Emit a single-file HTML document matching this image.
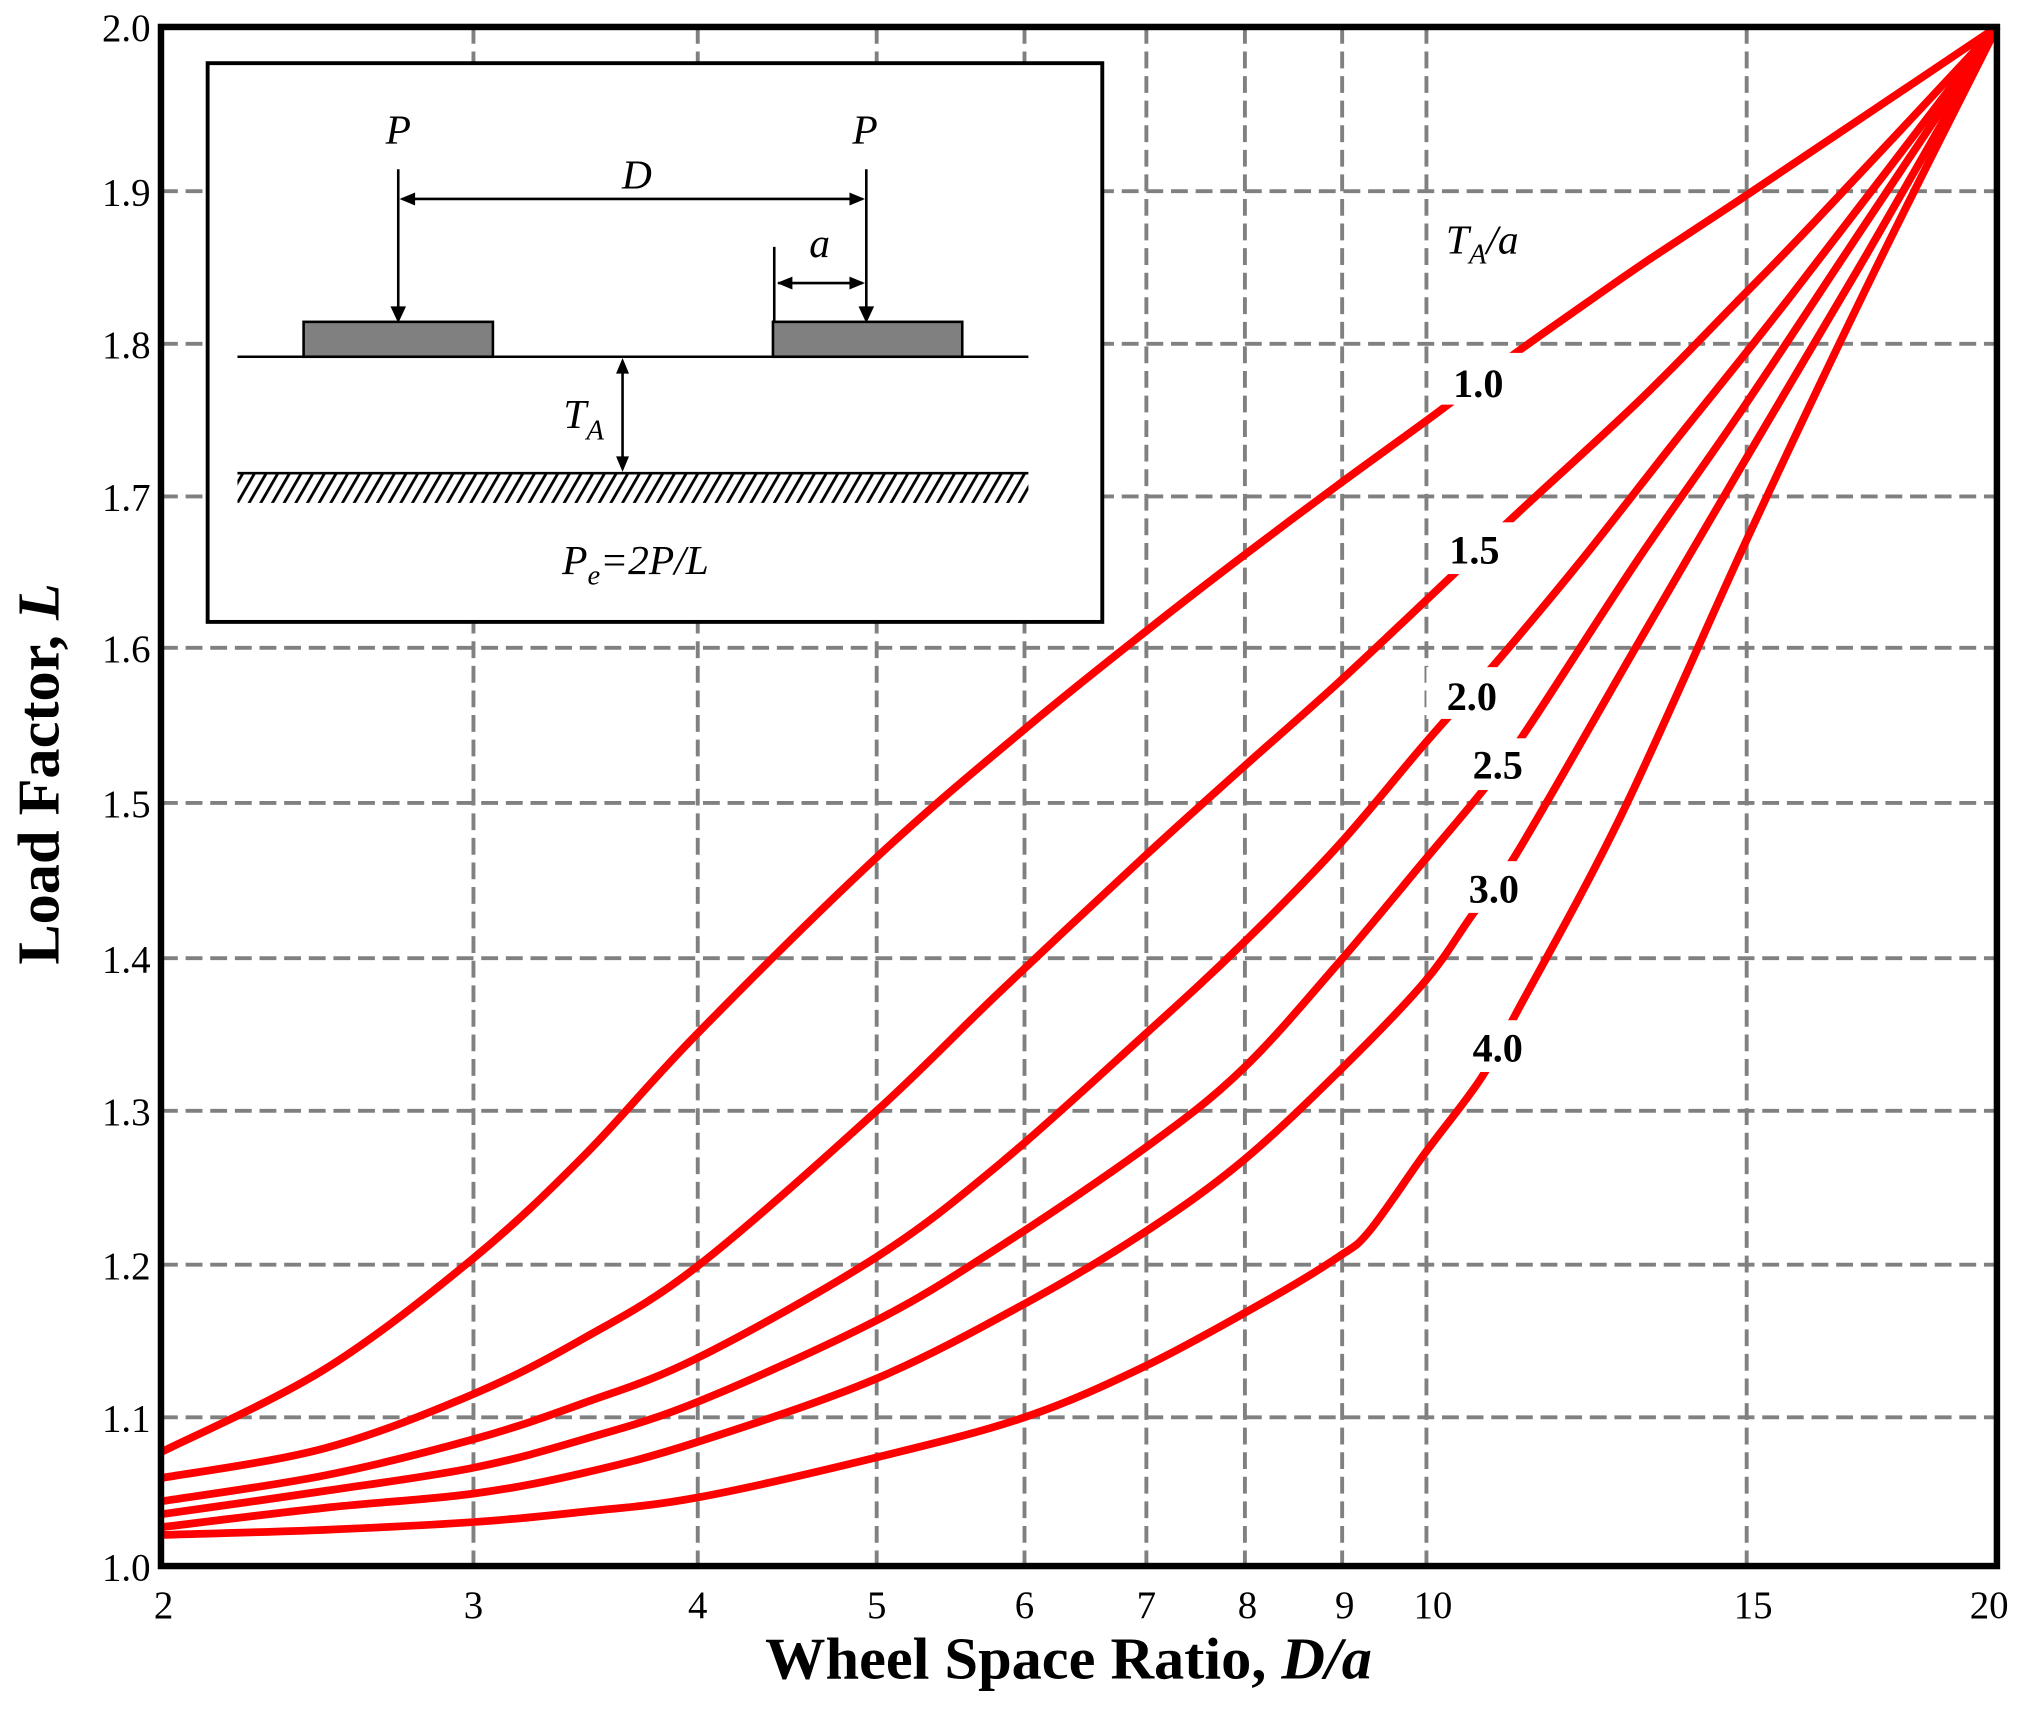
<!DOCTYPE html>
<html><head><meta charset="utf-8"><style>html,body{margin:0;padding:0;background:#fff}svg{display:block}</style></head>
<body>
<svg width="2032" height="1716" viewBox="-0.15 -0.85 1567.2 1326.8" preserveAspectRatio="none" xmlns="http://www.w3.org/2000/svg" font-family="Liberation Serif, serif">
<defs>
<pattern id="h" width="9" height="23" patternUnits="userSpaceOnUse" patternTransform="skewX(-30)">
<rect width="9" height="23" fill="#fff"/><line x1="2" y1="0" x2="2" y2="23" stroke="#000" stroke-width="2.5"/>
</pattern>
</defs>
<g stroke="#808080" stroke-width="3" stroke-dasharray="13,6" fill="none">
<path d="M365 20V1210M538 20V1210M676 20V1210M790 20V1210M884 20V1210M960 20V1210M1035 20V1210M1100 20V1210M1347 20V1210"/>
<path d="M124 147H1540M124 265H1540M124 383H1540M124 500H1540M124 620H1540M124 740H1540M124 858H1540M124 977H1540M124 1095H1540"/>
</g>
<g id="curves" stroke="#ff0000" stroke-width="6" fill="none" stroke-linejoin="round" stroke-linecap="butt">
<path data-p="124,1122 250,1058 365,972 450,893 538,798 676,662 790,563 884,487 960,428 1032,374 1110,317 1169,272 1224,233 1270,201 1350,148 1540,20" d="M124 1122 L1540 20"/>
<path data-p="124,1142 250,1119 365,1077 450,1034 538,978 676,858 771,766 884,660 958,593 1032,527 1118,446 1167,399 1263,310 1337,235 1400,170 1540,20" d="M124 1142 L1540 20"/>
<path data-p="124,1160 250,1140 365,1112 450,1084 538,1049 676,971 771,899 884,798 958,729 1032,653 1098,575 1155,510 1219,433 1292,340 1381,228 1540,20" d="M124 1160 L1540 20"/>
<path data-p="124,1170 250,1152 365,1134 450,1112 538,1083 676,1020 771,963 884,886 958,826 1032,744 1098,665 1147,606 1179,561 1263,432 1344,315 1440,170 1540,20" d="M124 1170 L1540 20"/>
<path data-p="124,1180 250,1165 365,1154 450,1138 538,1114 676,1065 796,1004 884,951 958,897 1032,828 1098,759 1135,707 1169,660 1263,497 1344,358 1440,195 1540,20" d="M124 1180 L1540 20"/>
<path data-p="124,1186 250,1182 365,1176 450,1168 538,1157 676,1126 790,1095 884,1055 978,1004 1032,971 1056,951 1098,892 1142,833 1169,783 1250,630 1350,410 1445,210 1540,20" d="M124 1186 L1540 20"/>
</g>
<g fill="#fff">
<rect x="1110" y="272" width="68" height="40"/>
<rect x="1105" y="403" width="68" height="40"/>
<rect x="1100" y="515" width="68" height="40"/>
<rect x="1122" y="570" width="68" height="40"/>
<rect x="1118" y="665" width="68" height="40"/>
<rect x="1120" y="788" width="70" height="40"/>
</g>
<g font-weight="bold" font-size="31" text-anchor="middle">
<text x="1140" y="306">1.0</text>
<text x="1137" y="435">1.5</text>
<text x="1135" y="548">2.0</text>
<text x="1155" y="601">2.5</text>
<text x="1152" y="697">3.0</text>
<text x="1155" y="820">4.0</text>
</g>
<text x="1115" y="195" font-style="italic" font-size="32">T<tspan font-size="22" dy="8">A</tspan><tspan dy="-8">/a</tspan></text>
<rect x="124" y="20" width="1416" height="1190" fill="none" stroke="#000" stroke-width="5"/>
<rect x="160" y="48" width="690" height="432" fill="#fff" stroke="#000" stroke-width="3"/>
<g stroke="#000" stroke-width="2" fill="none">
<path d="M307 130V240M668 130V240M310 153H665M597 190V248M600 218H665M183 275H793M480 280V360M183 365H793"/>
</g>
<g fill="#000">
<path d="M301 236L307 249L313 236Z"/><path d="M662 236L668 249L674 236Z"/>
<path d="M308 153L320 148L320 158Z"/><path d="M667 153L655 148L655 158Z"/>
<path d="M599 218L611 213L611 223Z"/><path d="M667 218L655 213L655 223Z"/>
<path d="M480 276L475 288L485 288Z"/><path d="M480 364L475 352L485 352Z"/>
</g>
<rect x="234" y="248" width="146" height="27" fill="#808080" stroke="#000" stroke-width="2"/>
<rect x="596" y="248" width="146" height="27" fill="#808080" stroke="#000" stroke-width="2"/>
<rect x="183" y="366" width="610" height="22" fill="url(#h)"/>
<g font-style="italic" font-size="32" text-anchor="middle">
<text x="307" y="110">P</text><text x="667" y="110">P</text>
<text x="491" y="145">D</text><text x="632" y="198">a</text>
<text x="450" y="330">T<tspan font-size="22" dy="9">A</tspan></text>
<text x="490" y="443">P<tspan font-size="22" dy="8">e</tspan><tspan dy="-8">=2P/L</tspan></text>
</g>
<g font-size="30" text-anchor="end">
<text x="116" y="31">2.0</text><text x="116" y="158">1.9</text><text x="116" y="276">1.8</text><text x="116" y="394">1.7</text><text x="116" y="511">1.6</text><text x="116" y="631">1.5</text><text x="116" y="751">1.4</text><text x="116" y="869">1.3</text><text x="116" y="988">1.2</text><text x="116" y="1106">1.1</text><text x="116" y="1221">1.0</text>
</g>
<g font-size="30" text-anchor="middle">
<text x="126" y="1250">2</text><text x="365" y="1250">3</text><text x="538" y="1250">4</text><text x="676" y="1250">5</text><text x="790" y="1250">6</text><text x="884" y="1250">7</text><text x="962" y="1250">8</text><text x="1037" y="1250">9</text><text x="1105" y="1250">10</text><text x="1352" y="1250">15</text><text x="1534" y="1250">20</text>
</g>
<text x="590" y="1297" font-size="46" font-weight="bold" textLength="468" lengthAdjust="spacingAndGlyphs">Wheel Space Ratio, <tspan font-style="italic">D/a</tspan></text>
<text transform="translate(45,745) rotate(-90)" font-size="46" font-weight="bold" textLength="295" lengthAdjust="spacingAndGlyphs">Load Factor, <tspan font-style="italic">L</tspan></text>
</svg>
<script>
(function(){
var ps=document.querySelectorAll('#curves path');
for(var k=0;k<ps.length;k++){
var el=ps[k];
var a=el.getAttribute('data-p').split(' ').map(function(s){return s.split(',').map(Number);});
var d='M'+a[0][0]+' '+a[0][1];
for(var i=0;i<a.length-1;i++){
var p0=a[Math.max(i-1,0)],p1=a[i],p2=a[i+1],p3=a[Math.min(i+2,a.length-1)];
var c1=[p1[0]+(p2[0]-p0[0])/6,p1[1]+(p2[1]-p0[1])/6],c2=[p2[0]-(p3[0]-p1[0])/6,p2[1]-(p3[1]-p1[1])/6];
d+=' C'+c1[0].toFixed(1)+' '+c1[1].toFixed(1)+' '+c2[0].toFixed(1)+' '+c2[1].toFixed(1)+' '+p2[0]+' '+p2[1];}
el.setAttribute('d',d);el.removeAttribute('data-p');}
})();
</script>
</body></html>
